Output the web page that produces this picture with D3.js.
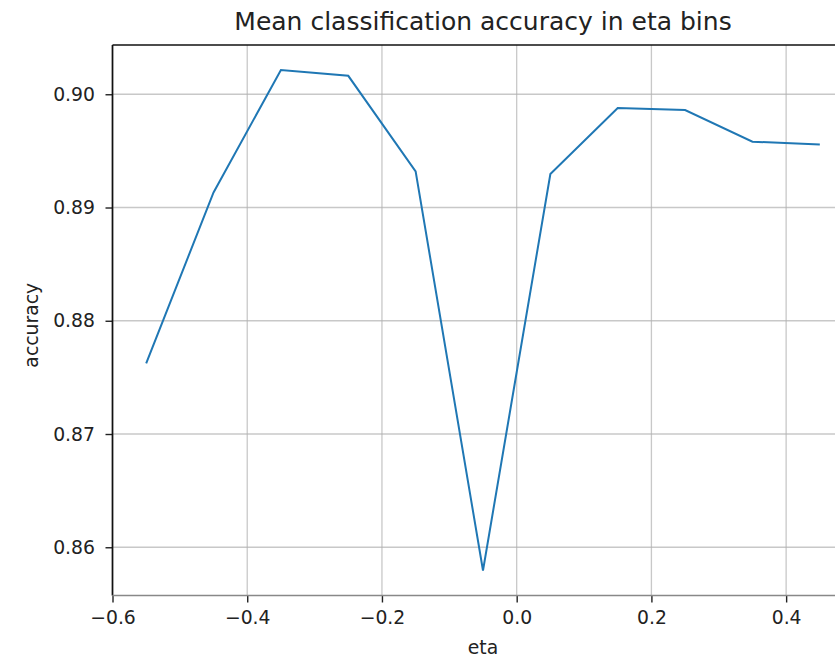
<!DOCTYPE html>
<html>
<head>
<meta charset="utf-8">
<script src="https://cdn.jsdelivr.net/npm/d3@7"></script>
<style>
  html, body { margin: 0; padding: 0; background: #fff; overflow: hidden; }
  svg { display: block; font-family: "DejaVu Sans", sans-serif; }
</style>
</head>
<body>
<svg id="chart" width="835" height="660"></svg>
<script>
// Bin centres in eta and the mean classification accuracy in each bin
const etaBins = [-0.55, -0.45, -0.35, -0.25, -0.15, -0.05, 0.05, 0.15, 0.25, 0.35, 0.45];
const accuracy = [0.87624, 0.89133, 0.90214, 0.90163, 0.89319, 0.85795, 0.89296, 0.89878, 0.89861, 0.89581, 0.89557];
const xTicks = [-0.6, -0.4, -0.2, 0.0, 0.2, 0.4];
const yTicks = [0.86, 0.87, 0.88, 0.89, 0.90];

const svg = d3.select("#chart");

// Axes box (the right part runs past the canvas edge)
const axLeft = 112.5, axTop = 45, axBottom = 595.5;
const axRight = axLeft + 741;

// Autoscale with 5% margins on each side of the data range
function padded(values) {
  const [lo, hi] = d3.extent(values);
  const m = (hi - lo) * 0.05;
  return [lo - m, hi + m];
}

const x = d3.scaleLinear().domain(padded(etaBins)).range([axLeft, axRight]);
const y = d3.scaleLinear().domain(padded(accuracy)).range([axBottom, axTop]);

// Grid
const grid = svg.append("g");
grid.selectAll("line.gx").data(xTicks.filter(t => t > x.domain()[0])).join("line")
  .attr("x1", d => x(d)).attr("x2", d => x(d))
  .attr("y1", axTop).attr("y2", axBottom)
  .attr("stroke", "#b0b0b0").attr("stroke-width", 1.3).attr("stroke-opacity", 0.7);
grid.selectAll("line.gy").data(yTicks).join("line")
  .attr("x1", axLeft).attr("x2", axRight)
  .attr("y1", d => y(d)).attr("y2", d => y(d))
  .attr("stroke", "#b0b0b0").attr("stroke-width", 1.3).attr("stroke-opacity", 0.7);

// Data line
svg.append("path")
  .datum(etaBins.map((e, i) => [e, accuracy[i]]))
  .attr("fill", "none")
  .attr("stroke", "#1f77b4")
  .attr("stroke-width", 2)
  .attr("stroke-linejoin", "miter")
  .attr("d", d3.line().x(d => x(d[0])).y(d => y(d[1])));

// Axes
const xAxis = d3.axisBottom(x).tickValues(xTicks).tickSize(7).tickPadding(8.5)
  .tickFormat(d => d3.format(".1f")(d).replace("-", "\u2212"));
const yAxis = d3.axisLeft(y).tickValues(yTicks).tickSize(7).tickPadding(10.5)
  .tickFormat(d3.format(".2f"));

const gx = svg.append("g").attr("transform", `translate(0,${axBottom})`).call(xAxis);
const gy = svg.append("g").attr("transform", `translate(${axLeft},0)`).call(yAxis);

[gx, gy].forEach(g => {
  g.select(".domain").remove();
  g.selectAll(".tick line").attr("stroke", "#222").attr("stroke-width", 1.4);
  g.selectAll(".tick text").attr("fill", "#222").style("font-size", "18.8px")
    .style("font-family", "DejaVu Sans, sans-serif");
});

// Spines
svg.append("line").attr("x1", axLeft).attr("x2", axLeft).attr("y1", axTop).attr("y2", axBottom)
  .attr("stroke", "#111").attr("stroke-width", 1.7);
svg.append("line").attr("x1", axLeft).attr("x2", axRight).attr("y1", axTop).attr("y2", axTop)
  .attr("stroke", "#111").attr("stroke-width", 1.7);
svg.append("line").attr("x1", axLeft).attr("x2", axRight).attr("y1", axBottom).attr("y2", axBottom)
  .attr("stroke", "#888").attr("stroke-width", 1.7);

// Title and axis labels
const cx = (axLeft + axRight) / 2;
svg.append("text").attr("x", cx).attr("y", 30).attr("text-anchor", "middle")
  .attr("fill", "#222").style("font-size", "25px")
  .text("Mean classification accuracy in eta bins");
svg.append("text").attr("x", cx).attr("y", 654).attr("text-anchor", "middle")
  .attr("fill", "#222").style("font-size", "18.8px").text("eta");
svg.append("text").attr("transform", `translate(38,${(axTop + axBottom) / 2 + 5}) rotate(-90)`)
  .attr("text-anchor", "middle").attr("fill", "#222").style("font-size", "18.8px")
  .text("accuracy");
</script>
</body>
</html>
